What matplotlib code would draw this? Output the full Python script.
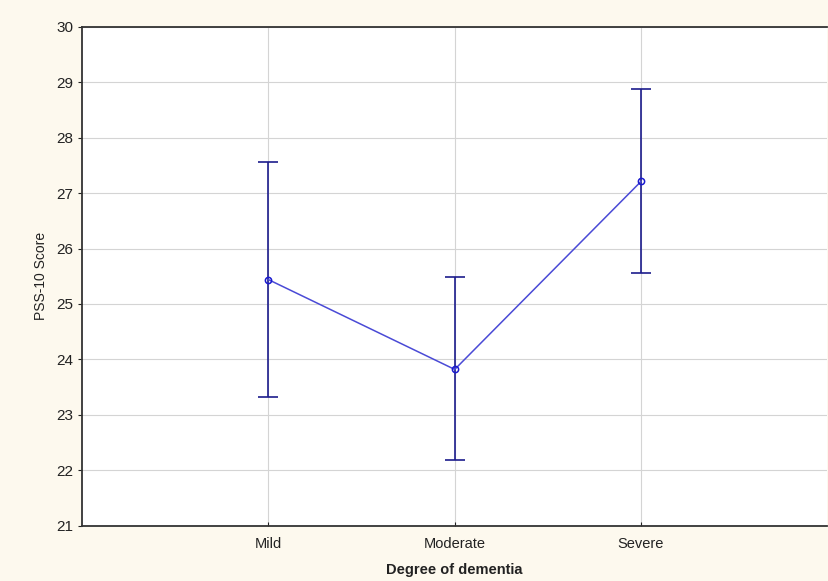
import matplotlib.pyplot as plt
import numpy as np

# Mean PSS-10 score with 95% CI by degree of dementia
categories = ['Mild', 'Moderate', 'Severe']
means = [25.44, 23.82, 27.21]
ci_low = [23.33, 22.18, 25.55]
ci_high = [27.56, 25.48, 28.88]

plt.rcParams['font.family'] = ['Liberation Sans', 'DejaVu Sans']

fig = plt.figure(figsize=(8.29, 5.81), dpi=100, facecolor='#fdf9ee')
ax = fig.add_axes([0.099, 0.095, 0.899, 0.859])
ax.set_facecolor('white')

x = np.arange(1, len(categories) + 1)
m = np.array(means)
yerr = [m - np.array(ci_low), np.array(ci_high) - m]

ax.errorbar(x, m, yerr=yerr, fmt='none', ecolor='#1c1c8c', elinewidth=1.2,
            capsize=7, capthick=1.2, zorder=3)
ax.plot(x, m, color='#4a4ad6', linewidth=1.1, marker='o', markersize=4.5,
        markerfacecolor='none', markeredgecolor='#1a1ad0', markeredgewidth=1.1, zorder=4)

ax.set_xlim(0, 4)
ax.set_ylim(21, 30)
ax.set_yticks(range(21, 31))
ax.set_xticks(x)
ax.set_xticklabels(categories)
ax.grid(True, color='#d4d4d4', linewidth=0.8)
ax.set_axisbelow(True)

for side in ['left', 'bottom', 'top']:
    ax.spines[side].set_color('#333333')
    ax.spines[side].set_linewidth(1.3)
ax.spines['right'].set_visible(False)

ax.tick_params(axis='y', direction='out', length=3, labelsize=11, colors='#222222')
ax.tick_params(axis='x', direction='in', length=3, labelsize=10.5, colors='#222222', pad=8)

ax.set_xlabel('Degree of dementia', fontsize=10.5, fontweight='bold', color='#222222', labelpad=9)
ax.set_ylabel('PSS-10 Score', fontsize=10, color='#222222', labelpad=6)

fig.savefig('out.png', dpi=100, facecolor=fig.get_facecolor())
